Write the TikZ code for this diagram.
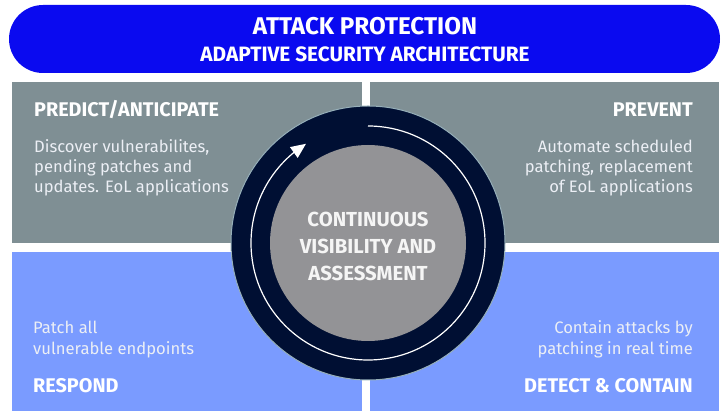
\documentclass[tikz,border=0pt]{standalone}
\usepackage{fontspec}
\setmainfont{Fira Sans}
\usetikzlibrary{arrows.meta,bending}
\definecolor{bannerblue}{RGB}{10,10,240}
\definecolor{slatebox}{RGB}{127,143,148}
\definecolor{lightblue}{RGB}{122,155,255}
\definecolor{navyring}{RGB}{0,15,51}
\definecolor{ringedge}{RGB}{150,175,185}
\definecolor{coregray}{RGB}{147,147,150}
\definecolor{bodytxt}{RGB}{236,239,245}
\tikzset{
  quad/.style={anchor=north west, inner sep=0pt, minimum width=350pt},
  headtxt/.style={text=white, font=\bfseries\fontsize{19.8}{22}\selectfont, inner sep=0pt},
  bodyline/.style={text=bodytxt, font=\fontsize{16.6}{20}\selectfont, inner sep=0pt},
  centertxt/.style={text=white!92!gray, font=\bfseries\fontsize{20.3}{27}\selectfont, inner sep=0pt, anchor=base},
}
\begin{document}
\begin{tikzpicture}[x=1pt,y=-1pt]
\useasboundingbox (0,0) rectangle (721,411);
% banner
\node[fill=bannerblue, rounded corners=34pt, minimum width=711pt, minimum height=68pt, inner sep=0pt] (banner) at (364.5,39) {};
\node[anchor=base, text=white, font=\bfseries\fontsize{24.2}{28}\selectfont, inner sep=0pt] (title) at (365,35) {ATTACK PROTECTION};
\node[anchor=base, text=white, font=\bfseries\fontsize{20.8}{24}\selectfont, inner sep=0pt] (subtitle) at (365,61.7) {ADAPTIVE SECURITY ARCHITECTURE};
% quadrants
\node[quad, fill=slatebox, minimum height=161pt] (tl) at (12,82) {};
\node[quad, fill=slatebox, minimum height=161pt, minimum width=349pt] (tr) at (370,82) {};
\node[quad, fill=lightblue, minimum height=160pt] (bl) at (12,252) {};
\node[quad, fill=lightblue, minimum height=160pt, minimum width=349pt] (br) at (370,252) {};
% circle
\node[circle, fill=navyring, draw=ringedge, line width=1pt, minimum size=274pt, inner sep=0pt] (ring) at (368,243) {};
\node[circle, fill=coregray, minimum size=196pt, inner sep=0pt] (core) at (368,243) {};
\coordinate (arcstart) at (368,126);
\draw[white, line width=1.2pt, -{Triangle[length=15pt,width=13pt,flex]}] (arcstart) arc[start angle=-90, end angle=238, radius=117];
\node[centertxt] (c1) at (368,227) {CONTINUOUS};
\node[centertxt] (c2) at (368,254) {VISIBILITY AND};
\node[centertxt] (c3) at (368,281) {ASSESSMENT};
% top-left
\node[headtxt, anchor=base west] (h1) at (34,117) {PREDICT/ANTICIPATE};
\node[bodyline, anchor=base west] (t1a) at (34,153) {Discover vulnerabilites,};
\node[bodyline, anchor=base west] (t1b) at (34,173) {pending patches and};
\node[bodyline, anchor=base west] (t1c) at (34,193) {updates. EoL applications};
% top-right
\node[headtxt, anchor=base east] (h2) at (693,117) {PREVENT};
\node[bodyline, anchor=base east] (t2a) at (693,153) {Automate scheduled};
\node[bodyline, anchor=base east] (t2b) at (693,173) {patching, replacement};
\node[bodyline, anchor=base east] (t2c) at (693,193) {of EoL applications};
% bottom-left
\node[bodyline, anchor=base west] (t3a) at (33,334) {Patch all};
\node[bodyline, anchor=base west] (t3b) at (33,355) {vulnerable endpoints};
\node[headtxt, anchor=base west] (h3) at (33,393) {RESPOND};
% bottom-right
\node[bodyline, anchor=base east] (t4a) at (693,334) {Contain attacks by};
\node[bodyline, anchor=base east] (t4b) at (693,355) {patching in real time};
\node[headtxt, anchor=base east] (h4) at (693,393) {DETECT \& CONTAIN};
\end{tikzpicture}
\end{document}
